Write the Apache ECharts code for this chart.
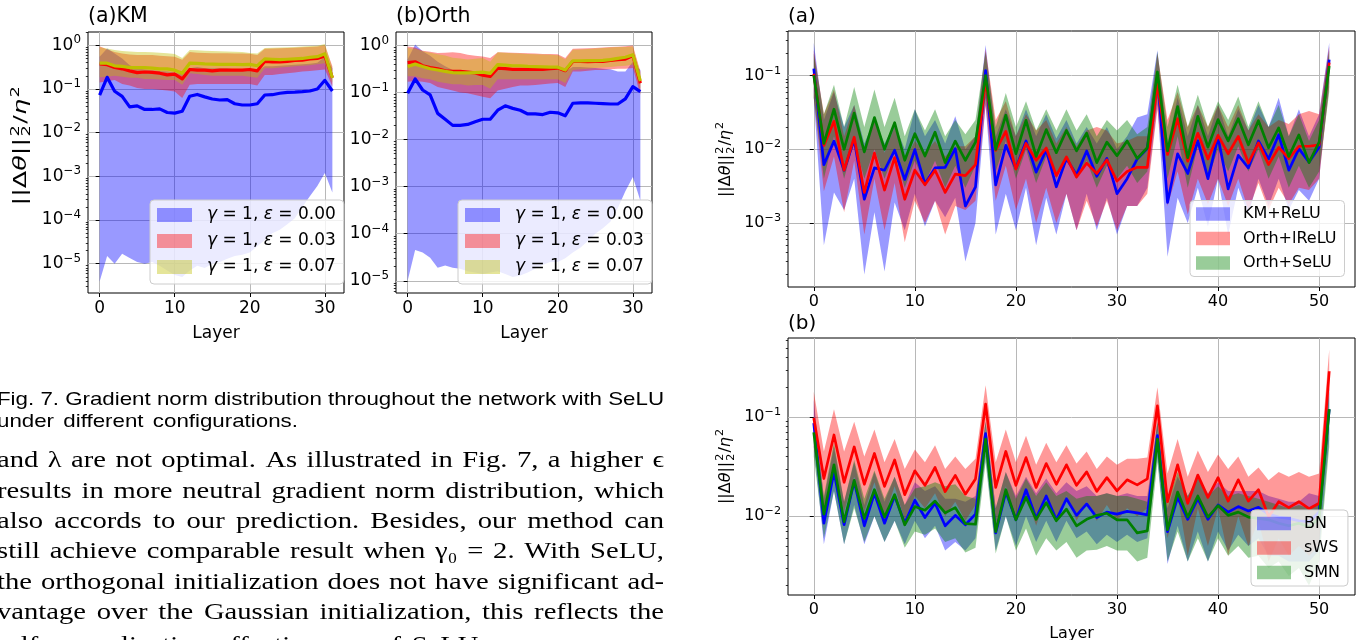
<!DOCTYPE html>
<html><head><meta charset="utf-8">
<script src="https://cdn.jsdelivr.net/npm/echarts@6/dist/echarts.min.js"></script>
<style>html,body{margin:0;padding:0;background:#fff;overflow:hidden}#c{width:1356px;height:640px}</style>
</head><body><div id="c"></div>
<script>
// ---------------- DATA ----------------
const layers32 = [0,1,2,3,4,5,6,7,8,9,10,11,12,13,14,15,16,17,18,19,20,21,22,23,24,25,26,27,28,29,30,31];
const layers52 = [0,1,2,3,4,5,6,7,8,9,10,11,12,13,14,15,16,17,18,19,20,21,22,23,24,25,26,27,28,29,30,31,32,33,34,35,36,37,38,39,40,41,42,43,44,45,46,47,48,49,50,51];
const xTicks32 = [0,10,20,30];
const xTicks52 = [0,10,20,30,40,50];
const yTicksLeft = [1e-5,1e-4,1e-3,1e-2,1e-1,1];
const yTicksRightA = [1e-3,1e-2,1e-1];
const yTicksRightB = [1e-2,1e-1];

const legendLeft = ['γ = 1, ε = 0.00','γ = 1, ε = 0.03','γ = 1, ε = 0.07'];
const legendRightA = ['KM+ReLU','Orth+lReLU','Orth+SeLU'];
const legendRightB = ['BN','sWS','SMN'];

// (a)KM
const km00Mean = [0.072,0.185,0.089,0.068,0.039,0.041,0.034,0.034,0.035,0.029,0.028,0.031,0.068,0.075,0.066,0.059,0.056,0.057,0.046,0.043,0.043,0.046,0.073,0.074,0.080,0.084,0.085,0.087,0.090,0.100,0.158,0.090];
const km00Hi = [0.55,0.85,0.65,0.5,0.35,0.3,0.28,0.27,0.26,0.25,0.24,0.22,0.3,0.32,0.3,0.3,0.3,0.3,0.28,0.27,0.27,0.26,0.33,0.33,0.34,0.35,0.36,0.37,0.38,0.4,0.55,0.3];
const km00Lo = [3.9e-6,1.5e-5,1.0e-5,1.7e-5,1.35e-5,1.1e-5,1.0e-5,1.1e-5,9e-6,7e-6,5.5e-6,5e-6,7e-6,9e-6,8e-6,1e-5,1.1e-5,1.3e-5,1.5e-5,1.6e-5,1.8e-5,2.5e-5,3.5e-5,5e-5,6e-5,8e-5,1.1e-4,2e-4,3.5e-4,6e-4,1.2e-3,4.3e-4];
const km03Mean = [0.374,0.36,0.31,0.29,0.26,0.237,0.245,0.24,0.23,0.21,0.22,0.17,0.28,0.27,0.27,0.26,0.27,0.27,0.27,0.27,0.28,0.26,0.43,0.42,0.42,0.43,0.45,0.46,0.49,0.5,0.57,0.18];
const km03Hi = [0.95,0.8,0.7,0.65,0.62,0.6,0.6,0.6,0.58,0.56,0.55,0.47,0.7,0.68,0.67,0.66,0.66,0.66,0.65,0.65,0.64,0.6,0.84,0.85,0.86,0.87,0.88,0.9,0.92,0.94,1.0,0.33];
const km03Lo = [0.14,0.15,0.16,0.13,0.12,0.105,0.1,0.1,0.096,0.092,0.088,0.062,0.125,0.13,0.13,0.13,0.13,0.13,0.13,0.13,0.13,0.12,0.21,0.21,0.22,0.23,0.24,0.25,0.26,0.27,0.28,0.115];
const km07Mean = [0.39,0.39,0.34,0.33,0.31,0.31,0.31,0.30,0.29,0.29,0.27,0.23,0.39,0.385,0.375,0.37,0.365,0.365,0.365,0.36,0.365,0.34,0.49,0.48,0.47,0.48,0.49,0.5,0.53,0.55,0.64,0.18];
const km07Hi = [0.9,0.85,0.78,0.74,0.72,0.7,0.7,0.69,0.68,0.66,0.63,0.51,0.78,0.77,0.75,0.74,0.73,0.72,0.71,0.7,0.67,0.65,0.87,0.88,0.89,0.9,0.92,0.94,0.96,0.98,1.07,0.3];
const km07Lo = [0.185,0.19,0.2,0.19,0.18,0.18,0.17,0.17,0.165,0.16,0.16,0.125,0.23,0.22,0.21,0.2,0.2,0.2,0.2,0.2,0.19,0.18,0.3,0.3,0.31,0.32,0.33,0.34,0.35,0.37,0.39,0.14];

// (b)Orth
const or00Mean = [0.096,0.194,0.113,0.089,0.036,0.027,0.020,0.020,0.021,0.024,0.027,0.027,0.042,0.052,0.046,0.042,0.035,0.035,0.034,0.038,0.037,0.032,0.059,0.060,0.060,0.059,0.058,0.057,0.057,0.073,0.133,0.104];
const or00Hi = [0.5,1.05,0.75,0.6,0.45,0.36,0.3,0.28,0.27,0.26,0.25,0.25,0.3,0.31,0.3,0.3,0.3,0.3,0.3,0.3,0.3,0.28,0.35,0.35,0.34,0.33,0.32,0.31,0.28,0.28,0.45,0.3];
const or00Lo = [1e-5,4.5e-5,4e-5,3.1e-5,1.9e-5,2.1e-5,1.9e-5,1.8e-5,1.6e-5,1.5e-5,1.4e-5,1.5e-5,1.6e-5,1.4e-5,1.2e-5,1.3e-5,1.5e-5,1.8e-5,2.2e-5,2.5e-5,2.5e-5,3e-5,4e-5,5e-5,7e-5,1e-4,1.3e-4,1.8e-4,3.5e-4,8e-4,1.6e-3,5e-4];
const or03Mean = [0.43,0.45,0.37,0.34,0.32,0.29,0.28,0.28,0.27,0.26,0.233,0.22,0.33,0.32,0.31,0.31,0.31,0.31,0.31,0.32,0.33,0.29,0.455,0.455,0.45,0.455,0.46,0.48,0.50,0.51,0.61,0.157];
const or03Hi = [0.95,0.9,0.77,0.73,0.69,0.7,0.72,0.69,0.63,0.6,0.58,0.54,0.72,0.71,0.7,0.69,0.68,0.67,0.66,0.66,0.65,0.54,0.85,0.86,0.87,0.88,0.9,0.92,0.94,0.96,1.0,0.28];
const or03Lo = [0.17,0.175,0.17,0.16,0.13,0.12,0.11,0.1,0.096,0.088,0.081,0.075,0.11,0.12,0.13,0.14,0.14,0.145,0.15,0.155,0.16,0.13,0.28,0.28,0.29,0.3,0.3,0.31,0.32,0.32,0.33,0.09];
const or07Mean = [0.355,0.40,0.355,0.32,0.30,0.28,0.265,0.26,0.262,0.265,0.27,0.255,0.39,0.38,0.37,0.37,0.36,0.355,0.35,0.345,0.345,0.30,0.47,0.47,0.475,0.475,0.48,0.50,0.53,0.56,0.63,0.175];
const or07Hi = [0.88,0.85,0.75,0.7,0.65,0.61,0.55,0.53,0.5,0.52,0.54,0.45,0.72,0.7,0.68,0.67,0.66,0.65,0.64,0.63,0.62,0.5,0.81,0.82,0.84,0.86,0.88,0.9,0.92,0.93,0.95,0.26];
const or07Lo = [0.22,0.22,0.2,0.19,0.17,0.16,0.15,0.15,0.14,0.145,0.145,0.12,0.19,0.19,0.19,0.19,0.19,0.19,0.19,0.19,0.19,0.16,0.3,0.31,0.32,0.33,0.34,0.35,0.36,0.37,0.39,0.12];

// right (a)
const kmReluMean = [0.124,0.0062,0.0129,0.0052,0.0135,0.0021,0.0056,0.0052,0.0097,0.0039,0.0099,0.0034,0.0056,0.0057,0.0102,0.0017,0.0031,0.117,0.0033,0.0113,0.0055,0.013,0.0049,0.0098,0.0031,0.0075,0.0045,0.0095,0.0043,0.0075,0.0025,0.004,0.0074,0.0102,0.10,0.0019,0.0087,0.0047,0.013,0.004,0.0146,0.0029,0.0083,0.0056,0.013,0.0074,0.0158,0.0052,0.0102,0.0067,0.0107,0.165];
const kmReluHi = [0.28,0.025,0.06,0.02,0.04,0.012,0.025,0.012,0.022,0.01,0.035,0.015,0.025,0.012,0.028,0.01,0.015,0.26,0.015,0.035,0.015,0.035,0.015,0.03,0.014,0.025,0.012,0.02,0.012,0.02,0.01,0.015,0.027,0.03,0.22,0.012,0.05,0.015,0.04,0.015,0.04,0.015,0.035,0.018,0.04,0.02,0.05,0.015,0.035,0.015,0.03,0.28];
const kmReluLo = [0.05,0.0005,0.0026,0.0015,0.004,0.0002,0.0014,0.00022,0.0019,0.0008,0.0025,0.0009,0.002,0.0012,0.0022,0.0003,0.001,0.04,0.0007,0.0025,0.0008,0.003,0.0005,0.0022,0.0007,0.0025,0.0008,0.0025,0.0008,0.0022,0.0007,0.0017,0.0017,0.003,0.04,0.00035,0.0022,0.001,0.003,0.0009,0.004,0.0007,0.003,0.0013,0.004,0.0017,0.004,0.0015,0.0028,0.002,0.004,0.08];
const orLreluMean = [0.106,0.0113,0.024,0.0052,0.0146,0.0026,0.0089,0.0028,0.0077,0.0021,0.0052,0.0033,0.0052,0.0026,0.0046,0.0044,0.0062,0.086,0.0097,0.0175,0.0054,0.012,0.0071,0.0104,0.0044,0.0079,0.0042,0.0065,0.0047,0.0072,0.0037,0.0050,0.0057,0.0057,0.08,0.0085,0.026,0.0069,0.0165,0.0074,0.0155,0.0087,0.015,0.0065,0.0122,0.0062,0.0106,0.0075,0.011,0.011,0.0115,0.15];
const orLreluHi = [0.22,0.03,0.065,0.015,0.04,0.01,0.025,0.009,0.02,0.007,0.013,0.009,0.013,0.008,0.011,0.011,0.015,0.23,0.025,0.045,0.015,0.03,0.018,0.025,0.012,0.02,0.011,0.018,0.02,0.018,0.012,0.013,0.015,0.015,0.2,0.025,0.06,0.02,0.04,0.02,0.04,0.02,0.04,0.018,0.03,0.02,0.025,0.022,0.03,0.033,0.03,0.25];
const orLreluLo = [0.05,0.0027,0.008,0.0014,0.007,0.0007,0.004,0.0008,0.0035,0.00055,0.002,0.001,0.002,0.0007,0.0017,0.0015,0.002,0.04,0.002,0.006,0.0015,0.004,0.001,0.003,0.001,0.0025,0.0008,0.002,0.0009,0.002,0.0008,0.0017,0.0017,0.0025,0.035,0.0017,0.005,0.0013,0.004,0.0018,0.004,0.0017,0.004,0.0015,0.0035,0.0015,0.003,0.0018,0.003,0.0028,0.004,0.07];
const orSeluMean = [0.101,0.012,0.035,0.010,0.031,0.0092,0.027,0.010,0.023,0.0071,0.0163,0.0081,0.0171,0.0066,0.0129,0.0071,0.0125,0.10,0.010,0.029,0.0087,0.0247,0.008,0.0185,0.009,0.018,0.0095,0.0165,0.0066,0.0125,0.0082,0.013,0.0075,0.0105,0.112,0.0095,0.038,0.0077,0.028,0.0107,0.0253,0.013,0.026,0.0115,0.0245,0.0105,0.0195,0.008,0.0157,0.0066,0.0125,0.135];
const orSeluHi = [0.2,0.03,0.075,0.02,0.07,0.02,0.065,0.02,0.05,0.015,0.035,0.018,0.035,0.015,0.025,0.016,0.025,0.21,0.02,0.058,0.02,0.045,0.018,0.035,0.018,0.035,0.018,0.03,0.015,0.025,0.018,0.025,0.016,0.02,0.21,0.02,0.075,0.02,0.055,0.02,0.045,0.025,0.052,0.02,0.045,0.02,0.04,0.015,0.03,0.013,0.025,0.22];
const orSeluLo = [0.05,0.004,0.015,0.004,0.013,0.004,0.01,0.004,0.009,0.003,0.007,0.0035,0.007,0.003,0.006,0.003,0.006,0.05,0.005,0.013,0.004,0.01,0.0035,0.008,0.004,0.008,0.004,0.007,0.003,0.006,0.004,0.006,0.0035,0.005,0.05,0.004,0.015,0.003,0.011,0.004,0.01,0.005,0.011,0.005,0.01,0.004,0.008,0.003,0.006,0.003,0.005,0.06];

// right (b)
const bnMean = [0.087,0.0085,0.028,0.0082,0.0224,0.008,0.017,0.0085,0.016,0.0085,0.0145,0.0097,0.0135,0.008,0.0102,0.0082,0.0105,0.068,0.0068,0.0175,0.0092,0.0185,0.0095,0.016,0.0092,0.015,0.0102,0.0133,0.0097,0.011,0.0105,0.0112,0.0108,0.0103,0.065,0.007,0.0155,0.0093,0.015,0.0093,0.013,0.011,0.0125,0.0113,0.0123,0.0105,0.0098,0.0095,0.009,0.0088,0.011,0.12];
const bnHi = [0.15,0.015,0.05,0.014,0.035,0.013,0.028,0.014,0.025,0.013,0.022,0.018,0.02,0.015,0.015,0.014,0.016,0.09,0.012,0.028,0.016,0.025,0.017,0.024,0.017,0.022,0.018,0.02,0.016,0.017,0.016,0.017,0.016,0.016,0.09,0.012,0.025,0.016,0.024,0.017,0.022,0.018,0.018,0.018,0.018,0.016,0.015,0.014,0.014,0.017,0.016,0.2];
const bnLo = [0.05,0.0052,0.018,0.0052,0.013,0.0052,0.01,0.0055,0.009,0.0052,0.009,0.006,0.008,0.0045,0.0055,0.0045,0.006,0.04,0.0045,0.01,0.005,0.01,0.0055,0.009,0.0055,0.009,0.006,0.007,0.0052,0.0065,0.0055,0.0065,0.0055,0.006,0.04,0.0033,0.008,0.0035,0.007,0.0035,0.007,0.0045,0.0065,0.005,0.006,0.004,0.004,0.0035,0.0035,0.0035,0.0045,0.06];
const swsMean = [0.098,0.024,0.066,0.022,0.05,0.021,0.043,0.02,0.037,0.0165,0.0287,0.0205,0.031,0.0177,0.0258,0.0167,0.0238,0.135,0.0195,0.045,0.0205,0.039,0.0195,0.034,0.021,0.033,0.0205,0.028,0.0178,0.0245,0.018,0.0233,0.0207,0.0238,0.13,0.014,0.033,0.0135,0.026,0.0155,0.0245,0.0142,0.0233,0.0142,0.0185,0.0099,0.014,0.0122,0.014,0.0119,0.0135,0.29];
const swsHi = [0.18,0.045,0.12,0.045,0.09,0.04,0.075,0.035,0.06,0.03,0.047,0.035,0.052,0.03,0.04,0.03,0.038,0.21,0.035,0.075,0.035,0.065,0.033,0.055,0.035,0.052,0.034,0.045,0.03,0.04,0.033,0.038,0.038,0.039,0.2,0.027,0.06,0.025,0.046,0.028,0.042,0.03,0.04,0.025,0.031,0.023,0.028,0.025,0.028,0.025,0.027,0.48];
const swsLo = [0.05,0.012,0.035,0.011,0.025,0.011,0.022,0.01,0.02,0.009,0.016,0.012,0.017,0.01,0.014,0.009,0.013,0.08,0.008,0.02,0.009,0.016,0.008,0.016,0.009,0.016,0.009,0.014,0.009,0.013,0.009,0.012,0.01,0.012,0.075,0.006,0.016,0.004,0.012,0.005,0.012,0.004,0.01,0.005,0.009,0.0035,0.006,0.004,0.005,0.004,0.005,0.18];
const smnMean = [0.07,0.0105,0.033,0.0088,0.023,0.0095,0.0185,0.0098,0.0165,0.0082,0.0125,0.0115,0.0142,0.0108,0.0122,0.0084,0.0083,0.06,0.007,0.0185,0.0092,0.0155,0.0093,0.0137,0.009,0.0118,0.008,0.0093,0.0102,0.0107,0.0092,0.0092,0.0068,0.0071,0.06,0.0073,0.0175,0.0098,0.016,0.0098,0.0128,0.0102,0.011,0.0098,0.0095,0.0092,0.0085,0.008,0.0085,0.0078,0.0095,0.12];
const smnHi = [0.1,0.016,0.055,0.014,0.037,0.015,0.029,0.015,0.025,0.013,0.019,0.02,0.022,0.02,0.021,0.016,0.015,0.09,0.012,0.028,0.015,0.024,0.016,0.022,0.016,0.018,0.015,0.016,0.016,0.017,0.016,0.016,0.015,0.014,0.09,0.014,0.028,0.016,0.025,0.016,0.02,0.016,0.017,0.016,0.015,0.014,0.013,0.012,0.013,0.012,0.014,0.18];
const smnLo = [0.04,0.006,0.018,0.0052,0.012,0.0055,0.01,0.0055,0.009,0.0048,0.007,0.0065,0.0075,0.0055,0.006,0.0043,0.0048,0.035,0.0042,0.01,0.0045,0.0075,0.004,0.006,0.0045,0.0055,0.0038,0.0045,0.0046,0.005,0.0045,0.0045,0.0035,0.0038,0.035,0.0035,0.007,0.0035,0.006,0.0035,0.006,0.004,0.005,0.0038,0.004,0.003,0.0035,0.0025,0.003,0.002,0.0035,0.05];

// text
const captionLines = ['Fig. 7. Gradient norm distribution throughout the network with SeLU','under different configurations.'];
const paraLines = [
  'and λ are not optimal. As illustrated in Fig. 7, a higher ϵ',
  'results in more neutral gradient norm distribution, which',
  'also accords to our prediction. Besides, our method can',
  'still achieve comparable result when γ₀ = 2. With SeLU,',
  'the orthogonal initialization does not have significant ad-',
  'vantage over the Gaussian initialization, this reflects the',
  'self-normalization effectiveness of SeLU.'
];

// ---------------- STYLE / LAYOUT ----------------
const FAM = 'DejaVu Sans';
const BLUE='#0000ff', RED='#ff0000', YEL='#bfbf00', GRN='#008000';
const BBLUE='rgba(0,0,255,0.4)', BRED='rgba(255,0,0,0.4)', BYEL='rgba(191,191,0,0.4)', BGRN='rgba(0,128,0,0.4)';

const panels = [
  {grid:{left:88,top:32,width:256,height:261}, x:[-1.55,32.55], y:[Math.pow(10,-5.67),Math.pow(10,0.305)], xt:xTicks32, yt:yTicksLeft, fs:17, lw:3.2, xName:'Layer', nameGap:32, layers:layers32,
   sets:[{n:legendLeft[0],m:km00Mean,lo:km00Lo,hi:km00Hi,c:BLUE,b:BBLUE},{n:legendLeft[1],m:km03Mean,lo:km03Lo,hi:km03Hi,c:RED,b:BRED},{n:legendLeft[2],m:km07Mean,lo:km07Lo,hi:km07Hi,c:YEL,b:BYEL}]},
  {grid:{left:396,top:32,width:256,height:261}, x:[-1.55,32.55], y:[Math.pow(10,-5.26),Math.pow(10,0.285)], xt:xTicks32, yt:yTicksLeft, fs:17, lw:3.2, xName:'Layer', nameGap:32, layers:layers32,
   sets:[{n:legendLeft[0],m:or00Mean,lo:or00Lo,hi:or00Hi,c:BLUE,b:BBLUE},{n:legendLeft[1],m:or03Mean,lo:or03Lo,hi:or03Hi,c:RED,b:BRED},{n:legendLeft[2],m:or07Mean,lo:or07Lo,hi:or07Hi,c:YEL,b:BYEL}]},
  {grid:{left:788,top:31,width:567,height:256}, x:[-2.55,53.55], y:[Math.pow(10,-3.868),Math.pow(10,-0.395)], xt:xTicks52, yt:yTicksRightA, fs:16, lw:2.7, xName:'', nameGap:28, layers:layers52,
   sets:[{n:legendRightA[0],m:kmReluMean,lo:kmReluLo,hi:kmReluHi,c:BLUE,b:BBLUE},{n:legendRightA[1],m:orLreluMean,lo:orLreluLo,hi:orLreluHi,c:RED,b:BRED},{n:legendRightA[2],m:orSeluMean,lo:orSeluLo,hi:orSeluHi,c:GRN,b:BGRN}]},
  {grid:{left:788,top:338,width:567,height:257}, x:[-2.55,53.55], y:[Math.pow(10,-2.795),Math.pow(10,-0.202)], xt:xTicks52, yt:yTicksRightB, fs:16, lw:2.7, xName:'Layer', nameGap:31, layers:layers52,
   sets:[{n:legendRightB[0],m:bnMean,lo:bnLo,hi:bnHi,c:BLUE,b:BBLUE},{n:legendRightB[1],m:swsMean,lo:swsLo,hi:swsHi,c:RED,b:BRED},{n:legendRightB[2],m:smnMean,lo:smnLo,hi:smnHi,c:GRN,b:BGRN}]}
];

function minorTicks(min,max){
  const out=[];
  for(let d=Math.floor(Math.log10(min)); d<=Math.ceil(Math.log10(max)); d++){
    for(let k=2;k<=9;k++){ const v=k*Math.pow(10,d); if(v>min && v<max) out.push(v); }
  }
  return out;
}
const GRIDC = '#b8b8b8';

const grids=[], xAxes=[], yAxes=[], series=[];
panels.forEach((p,gi)=>{
  grids.push(Object.assign({show:true, borderColor:'#000', borderWidth:1, backgroundColor:'rgba(0,0,0,0)', containLabel:false, outerBoundsMode:'none'}, p.grid));
  xAxes.push({gridIndex:gi, type:'value', min:p.x[0], max:p.x[1],
    axisLine:{show:false},
    axisTick:{show:true, customValues:p.xt, length:4, lineStyle:{color:'#000',width:1}},
    axisLabel:{show:true, customValues:p.xt, color:'#000', fontFamily:FAM, fontSize:p.fs, margin:7},
    splitLine:{show:true, lineStyle:{color:GRIDC, width:1}},
    name:p.xName, nameLocation:'middle', nameGap:p.nameGap, nameTextStyle:{color:'#000', fontFamily:FAM, fontSize:p.fs}
  });
  const sup = Math.round(p.fs*0.7*10)/10;
  yAxes.push({gridIndex:gi, type:'log', logBase:10, min:p.y[0], max:p.y[1], position:'left',
    axisLine:{show:false},
    axisTick:{show:true, customValues:p.yt, length:4, lineStyle:{color:'#000',width:1}},
    axisLabel:{show:true, customValues:p.yt, margin:7, color:'#000',
      formatter:function(v){ const l=Math.log10(v); const e=Math.round(l); if(Math.abs(l-e)>1e-6) return ''; return '{b|10}{s|'+(e<0?'\u2212':'')+Math.abs(e)+'}'; },
      rich:{ b:{fontFamily:FAM, fontSize:p.fs, color:'#000'}, s:{fontFamily:FAM, fontSize:sup, color:'#000', padding:[0,0,Math.round(p.fs*0.6),0]} } },
    splitLine:{show:true, lineStyle:{color:GRIDC, width:1}}
  });
  yAxes.push({gridIndex:gi, type:'log', logBase:10, min:p.y[0], max:p.y[1], position:'left', offset:0,
    axisLine:{show:false},
    axisTick:{show:true, customValues:minorTicks(p.y[0],p.y[1]), length:2.2, lineStyle:{color:'#000',width:0.8}},
    axisLabel:{show:false}, splitLine:{show:false}
  });
  const yi = gi*2;
  const xs = p.layers;
  p.sets.forEach(s=>{
    const lo=s.lo, hi=s.hi, col=s.b;
    series.push({type:'custom', name:s.n, xAxisIndex:gi, yAxisIndex:yi, silent:true, z:2,
      itemStyle:{color:col},
      data: xs.map((x,i)=>[x, lo[i], hi[i]]),
      encode:{x:0, y:[1,2]},
      renderItem:function(params, api){
        if(params.dataIndex!==0) return null;
        const pts=[];
        for(let i=0;i<xs.length;i++) pts.push(api.coord([xs[i], hi[i]]));
        for(let i=xs.length-1;i>=0;i--) pts.push(api.coord([xs[i], lo[i]]));
        return {type:'polygon', shape:{points:pts}, style:{fill:col, stroke:null}};
      }
    });
  });
  p.sets.forEach(s=>{
    series.push({type:'line', name:s.n+' mean', xAxisIndex:gi, yAxisIndex:yi, silent:true, z:3,
      data: xs.map((x,i)=>[x, s.m[i]]), showSymbol:false, symbol:'none',
      lineStyle:{color:s.c, width:p.lw, join:'round', cap:'butt'}, itemStyle:{color:s.c}, emphasis:{disabled:true}
    });
  });
});

function mkLegend(left, top, names, colors, o){
  return {show:true, orient:'vertical', left:left, top:top, selectedMode:false,
    data: names.map((n,i)=>({name:n, icon:'rect', itemStyle:{color:colors[i], borderWidth:0}})),
    itemWidth:o.iw, itemHeight:o.ih, itemGap:o.gap, padding:o.pad,
    backgroundColor:'rgba(255,255,255,0.8)', borderColor:'#cccccc', borderWidth:1, borderRadius:4,
    textStyle:{fontFamily:FAM, fontSize:o.fs, color:'#000', lineHeight:o.lh, padding:[0,0,0,o.tp],
      rich:{i:{fontFamily:FAM, fontSize:o.fs, fontStyle:'italic', color:'#000', lineHeight:o.lh}}},
    formatter:function(n){ return n.replace('γ','{i|γ}').replace('ε','{i|ε}'); }
  };
}
const legL = {iw:35, ih:14, gap:8, pad:[6,8,8,7], fs:17, lh:18, tp:10};
const legR = {iw:34, ih:13.5, gap:7.5, pad:[5,8,5,6], fs:16, lh:17, tp:8};
const legends = [
  mkLegend(150, 200, legendLeft, [BBLUE,BRED,BYEL], legL),
  mkLegend(458, 200, legendLeft, [BBLUE,BRED,BYEL], legL),
  mkLegend(1190, 200.5, legendRightA, [BBLUE,BRED,BGRN], legR),
  mkLegend(1251, 510, legendRightB, [BBLUE,BRED,BGRN], legR)
];

// ---------------- TEXT HELPERS ----------------
const mctx = document.createElement('canvas').getContext('2d');
function measure(t, font){ mctx.font = font; return mctx.measureText(t).width; }
function txt(x,y,text,size,fam,extra){
  return Object.assign({type:'text', x:x, y:y, silent:true,
    style:{text:text, fontSize:size, fontFamily:fam, fill:'#000', align:'left', textAlign:'left', verticalAlign:'middle', textVerticalAlign:'middle'}}, extra||{});
}
function wordsWidth(line, size, fam){
  const font = size+'px "'+fam+'"';
  return line.split(' ').reduce((a,w)=>a+measure(w,font),0);
}
function textLine(line, x0, x1, baseY, size, fam, sx, justify){
  const font = size+'px "'+fam+'"';
  const words = line.split(' ');
  const ws = words.map(w=>measure(w,font)*sx);
  const total = ws.reduce((a,b)=>a+b,0);
  const gap = justify && words.length>1 ? (x1-x0-total)/(words.length-1) : measure(' ',font)*sx*1.5;
  const y = baseY - 0.32*size;
  const els=[]; let x=x0;
  words.forEach((w,i)=>{ els.push(txt(x,y,w,size,fam,{scaleX:sx})); x += ws[i]+gap; });
  return els;
}
function mathYLabel(cx, cy, size, stretch){
  const ss = size*0.7;
  const f = (sz,it)=> (it?'italic ':'')+sz+'px "'+FAM+'"';
  const parts = [{t:'||Δ'},{t:'θ',it:true},{t:'||'},{sup:'2',sub:'2'},{t:'/'},{t:'η',it:true},{sup:'2'}];
  let w=0; const items=[];
  parts.forEach(p=>{
    if(p.t){ items.push({t:p.t,x:w,y:0,s:size,it:!!p.it}); w+=measure(p.t,f(size,p.it)); }
    else { const pw=measure('2',f(ss,false)); items.push({t:p.sup,x:w+1,y:-size*0.36,s:ss}); if(p.sub) items.push({t:p.sub,x:w+1,y:size*0.3,s:ss}); w+=pw+2; }
  });
  return {type:'group', x:cx, y:cy, rotation:Math.PI/2, scaleX:stretch, silent:true,
    children: items.map(it=>({type:'text', x:it.x-w/2, y:it.y, style:{text:it.t, fontSize:it.s, fontFamily:FAM, fontStyle:it.it?'italic':'normal', fill:'#000', align:'left', textAlign:'left', verticalAlign:'middle', textVerticalAlign:'middle'}}))};
}

const graphics = [];
graphics.push(txt(88,17,'(a)KM',20.5,FAM));
graphics.push(txt(396,17,'(b)Orth',20.5,FAM));
graphics.push(txt(788,17,'(a)',20,FAM));
graphics.push(txt(788,324,'(b)',20,FAM));
graphics.push(mathYLabel(22,145,17,1.5));
graphics.push(mathYLabel(726,159,16,1));
graphics.push(mathYLabel(726,466,16,1));

// caption
const capSize = 18.5, capFam = 'Liberation Sans';
const capNat = measure(captionLines[0], capSize+'px "'+capFam+'"');
const capSx = 667/capNat;
textLine(captionLines[0], -3, 664, 406, capSize, capFam, capSx, true).forEach(e=>graphics.push(e));
textLine(captionLines[1], -3, 664, 428.3, capSize, capFam, capSx, false).forEach(e=>graphics.push(e));
// paragraph: horizontal glyph scale chosen so the tightest justified line keeps a minimum word gap
const parSize = 23, parFam = 'Liberation Serif', minGap = 9;
let parSx = 10;
paraLines.slice(0, paraLines.length-1).forEach(l=>{
  const n = l.split(' ').length;
  parSx = Math.min(parSx, (667 - (n-1)*minGap) / wordsWidth(l, parSize, parFam));
});
paraLines.forEach((l,i)=>{
  const last = i === paraLines.length-1;
  textLine(l, -3, 664, 468.7 + 30.3*i + (last ? 3 : 0), parSize, parFam, parSx, !last).forEach(e=>graphics.push(e));
});

const chart = echarts.init(document.getElementById('c'), null, {renderer:'canvas'});
chart.setOption({
  animation:false, backgroundColor:'#fff',
  grid:grids, xAxis:xAxes, yAxis:yAxes, legend:legends, series:series, graphic:graphics,
  tooltip:{show:false}
});
</script></body></html>
